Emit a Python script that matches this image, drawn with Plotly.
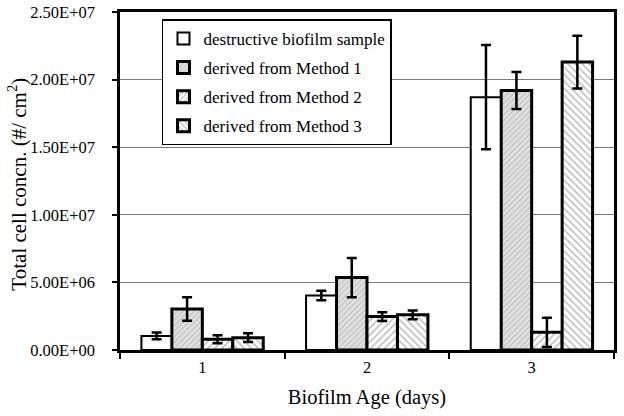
import plotly.graph_objects as go

# --- data ---
days = ["1", "2", "3"]

destructive = [1.04e6, 4.03e6, 1.87e7]
destructive_err = [0.25e6, 0.35e6, 3.85e6]

method1 = [3.04e6, 5.36e6, 1.92e7]
method1_err = [0.87e6, 1.45e6, 1.37e6]

method2 = [0.80e6, 2.47e6, 1.31e6]
method2_err = [0.30e6, 0.33e6, 1.08e6]

method3 = [0.91e6, 2.60e6, 2.13e7]
method3_err = [0.32e6, 0.33e6, 1.95e6]

y_ticks = [0, 5e6, 1e7, 1.5e7, 2e7, 2.5e7]
y_ticktext = ["0.00E+00", "5.00E+06", "1.00E+07", "1.50E+07", "2.00E+07", "2.50E+07"]

FONT = "Liberation Serif, Times New Roman, serif"

series = [
    ("destructive biofilm sample", destructive, destructive_err,
     dict(shape="", bgcolor="white"), 2),
    ("derived from Method 1", method1, method1_err,
     dict(shape="/", bgcolor="#e2e2e2", fgcolor="#9a9a9a", size=4, solidity=0.3), 3),
    ("derived from Method 2", method2, method2_err,
     dict(shape="/", bgcolor="white", fgcolor="#7a7a7a", size=5, solidity=0.3), 3),
    ("derived from Method 3", method3, method3_err,
     dict(shape="\\", bgcolor="white", fgcolor="#7a7a7a", size=5, solidity=0.3), 3),
]

fig = go.Figure()
for i, (name, vals, errs, pattern, lw) in enumerate(series):
    fig.add_trace(
        go.Bar(
            x=days,
            y=vals,
            name=name,
            legendgroup=f"g{i}",
            marker=dict(color="white", pattern=pattern,
                        line=dict(color="black", width=lw)),
            error_y=dict(type="data", array=errs, visible=True,
                         color="black", thickness=2.5, width=5),
        )
    )

fig.update_layout(
    width=624,
    height=416,
    margin=dict(l=120, r=10, t=12, b=66),
    paper_bgcolor="white",
    plot_bgcolor="white",
    font=dict(family=FONT, color="black", size=16.5),
    barmode="group",
    bargap=0.26,
    bargroupgap=0,
    showlegend=True,
    legend=dict(
        x=0.085, y=0.978, xanchor="left", yanchor="top",
        bgcolor="white", bordercolor="black", borderwidth=1.5,
        font=dict(family=FONT, size=17, color="black"),
        tracegroupgap=4,
    ),
)

fig.update_xaxes(
    type="category",
    automargin=False,
    showline=True, linecolor="black", linewidth=2.5, mirror=True,
    ticks="outside", tickson="boundaries", ticklen=6, tickwidth=2, tickcolor="black",
    tickfont=dict(family=FONT, size=16.5),
    title=dict(text="Biofilm Age (days)", font=dict(family=FONT, size=20.5)),
    showgrid=False,
)

fig.update_yaxes(
    range=[0, 2.5e7],
    automargin=False,
    tickmode="array", tickvals=y_ticks, ticktext=y_ticktext,
    ticklabeloverflow="allow",
    showline=True, linecolor="black", linewidth=2.5, mirror=True,
    ticks="outside", ticklen=5, tickwidth=1.5, tickcolor="black",
    ticklabelstandoff=14,
    tickfont=dict(family=FONT, size=16.5),
    showgrid=True, gridcolor="#7a7a7a", gridwidth=1,
    zeroline=False,
)

# y title as an annotation so it sits clear of the tick labels
fig.add_annotation(
    text="Total cell concn. (#/ cm<sup>2</sup>)",
    xref="paper", yref="paper", x=-0.208, y=0.49,
    xanchor="center", yanchor="middle", textangle=-90,
    showarrow=False, font=dict(family=FONT, size=21),
)

# drop the default 8px body margin so the figure fills the window
fig.write_html(
    "out.html",
    config={"displayModeBar": False},
    post_script="document.body.style.margin='0';",
)
